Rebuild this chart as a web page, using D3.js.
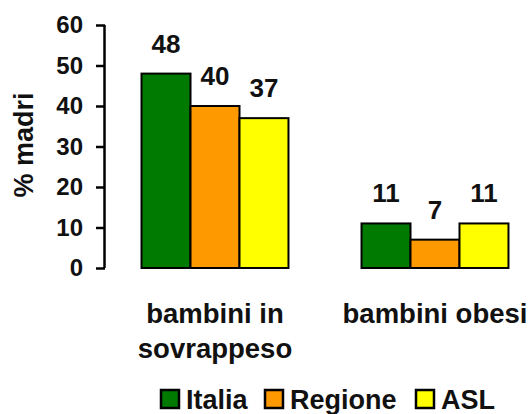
<!DOCTYPE html>
<html>
<head>
<meta charset="utf-8">
<script src="https://cdn.jsdelivr.net/npm/d3@7"></script>
<style>
  html, body { margin: 0; padding: 0; background: #fff; }
  svg { display: block; font-family: "Liberation Sans", Arial, sans-serif; font-weight: bold; }
</style>
</head>
<body>
<svg id="chart" width="531" height="414"></svg>
<script>
// Categories, series and values
const categories = [["bambini in", "sovrappeso"], ["bambini obesi"]];
const seriesNames = ["Italia", "Regione", "ASL"];
const seriesColors = ["#007A00", "#FF9900", "#FFFF00"];
const italia = [48, 11];
const regione = [40, 7];
const asl = [37, 11];
const yTicks = [0, 10, 20, 30, 40, 50, 60];

const values = [italia, regione, asl];
const svg = d3.select("#chart");

const x0 = d3.scaleBand()
  .domain(d3.range(categories.length))
  .range([105, 545])
  .paddingInner(0.332)
  .paddingOuter(0.166);
const x1 = d3.scaleBand()
  .domain(d3.range(seriesNames.length))
  .range([0, x0.bandwidth()]);
const y = d3.scaleLinear().domain([0, 60]).range([268, 25]);

// Bars
const groups = svg.append("g").selectAll("g")
  .data(categories.map((c, i) => i))
  .join("g")
  .attr("transform", i => `translate(${x0(i)},0)`);

groups.selectAll("rect")
  .data(i => values.map((s, k) => ({ k, v: s[i] })))
  .join("rect")
  .attr("x", d => x1(d.k))
  .attr("y", d => y(d.v))
  .attr("width", x1.bandwidth())
  .attr("height", d => y(0) - y(d.v))
  .attr("fill", d => seriesColors[d.k])
  .attr("stroke", "#000")
  .attr("stroke-width", 2);

// Value labels
groups.selectAll("text.val")
  .data(i => values.map((s, k) => ({ k, v: s[i] })))
  .join("text")
  .attr("class", "val")
  .attr("x", d => x1(d.k) + x1.bandwidth() / 2)
  .attr("y", d => y(d.v) - 21)
  .attr("text-anchor", "middle")
  .attr("font-size", 26)
  .attr("fill", "#111")
  .text(d => d.v);

// Y axis
const yAxis = svg.append("g")
  .attr("transform", "translate(105,0)")
  .call(d3.axisLeft(y).tickValues(yTicks).tickSize(9).tickPadding(13));
yAxis.select(".domain").attr("stroke", "#000").attr("stroke-width", 2.5)
  .attr("d", `M-0.5,${y(60)}V${y(0)}`);
yAxis.selectAll(".tick line").attr("stroke", "#000").attr("stroke-width", 2.5);
yAxis.selectAll(".tick text")
  .attr("font-family", "Liberation Sans, Arial, sans-serif")
  .attr("font-weight", "bold")
  .attr("font-size", 24)
  .attr("fill", "#111");

// Y axis title
svg.append("text")
  .attr("transform", "translate(33,145) rotate(-90)")
  .attr("text-anchor", "middle")
  .attr("font-size", 27)
  .attr("fill", "#111")
  .text("% madri");

// Category labels
categories.forEach((lines, i) => {
  const t = svg.append("text")
    .attr("text-anchor", "middle")
    .attr("font-size", 27.5)
    .attr("fill", "#111");
  lines.forEach((ln, j) => {
    t.append("tspan")
      .attr("x", x0(i) + x0.bandwidth() / 2)
      .attr("y", 323 + j * 35)
      .text(ln);
  });
});

// Legend
const legendX = [160, 264, 415];
const legend = svg.append("g").selectAll("g")
  .data(seriesNames)
  .join("g")
  .attr("transform", (d, i) => `translate(${legendX[i]},389)`);
legend.append("rect")
  .attr("x", 1).attr("y", 1)
  .attr("width", 18).attr("height", 18)
  .attr("fill", (d, i) => seriesColors[i])
  .attr("stroke", "#000").attr("stroke-width", 2.5);
legend.append("text")
  .attr("x", 26).attr("y", 20)
  .attr("font-size", 27)
  .attr("fill", "#111")
  .text(d => d);
</script>
</body>
</html>
